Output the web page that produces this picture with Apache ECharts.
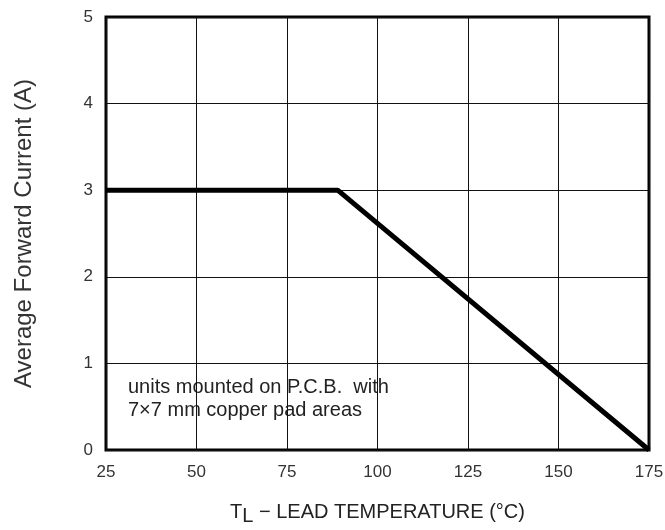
<!DOCTYPE html>
<html>
<head>
<meta charset="utf-8">
<script src="https://cdn.jsdelivr.net/npm/echarts@6/dist/echarts.min.js"></script>
<style>
  html, body { margin: 0; padding: 0; background: #fff; }
  #chart { width: 665px; height: 530px; }
</style>
</head>
<body>
<div id="chart"></div>
<script>
// derating curve: lead temperature (°C) vs average forward current (A)
const temps = [25, 89, 175];
const currents = [3, 3, 0];
const xTicks = [25, 50, 75, 100, 125, 150, 175];
const yTicks = [0, 1, 2, 3, 4, 5];
const note = ["units mounted on P.C.B.  with", "7×7 mm copper pad areas"];

const font = "Liberation Sans, Arial, sans-serif";
const chart = echarts.init(document.getElementById("chart"));

chart.setOption({
  animation: false,
  grid: {
    left: 106, right: 16, top: 17, bottom: 80,
    containLabel: false, outerBoundsMode: "none",
    show: true, borderColor: "#000", borderWidth: 3
  },
  xAxis: {
    type: "value",
    min: xTicks[0],
    max: xTicks[xTicks.length - 1],
    interval: 25,
    axisLine: { show: false },
    axisTick: { show: false },
    splitLine: { lineStyle: { color: "#111", width: 1 } },
    axisLabel: { color: "#333", fontSize: 17, fontFamily: font, margin: 14 },
    name: "{t|T}{s|L}{t| − LEAD TEMPERATURE (°C)}",
    nameLocation: "middle",
    nameGap: 49,
    nameTextStyle: {
      rich: {
        t: { fontSize: 20, color: "#222", fontFamily: font },
        s: { fontSize: 20, color: "#222", fontFamily: font, padding: [7, 0, 0, 0] }
      }
    }
  },
  yAxis: {
    type: "value",
    min: yTicks[0],
    max: yTicks[yTicks.length - 1],
    interval: 1,
    axisLine: { show: false },
    axisTick: { show: false },
    splitLine: { lineStyle: { color: "#111", width: 1 } },
    axisLabel: { color: "#333", fontSize: 17, fontFamily: font, margin: 13 },
    name: "Average Forward Current (A)",
    nameLocation: "middle",
    nameGap: 70,
    nameTextStyle: { color: "#333", fontSize: 24, fontFamily: font }
  },
  series: [{
    type: "line",
    data: temps.map((t, i) => [t, currents[i]]),
    symbol: "none",
    lineStyle: { color: "#000", width: 5 },
    z: 5
  }],
  graphic: [{
    type: "text",
    left: 128,
    top: 376,
    style: {
      text: note.join("\n"),
      fill: "#222",
      font: "20px " + font,
      lineHeight: 23
    }
  }]
});
</script>
</body>
</html>
